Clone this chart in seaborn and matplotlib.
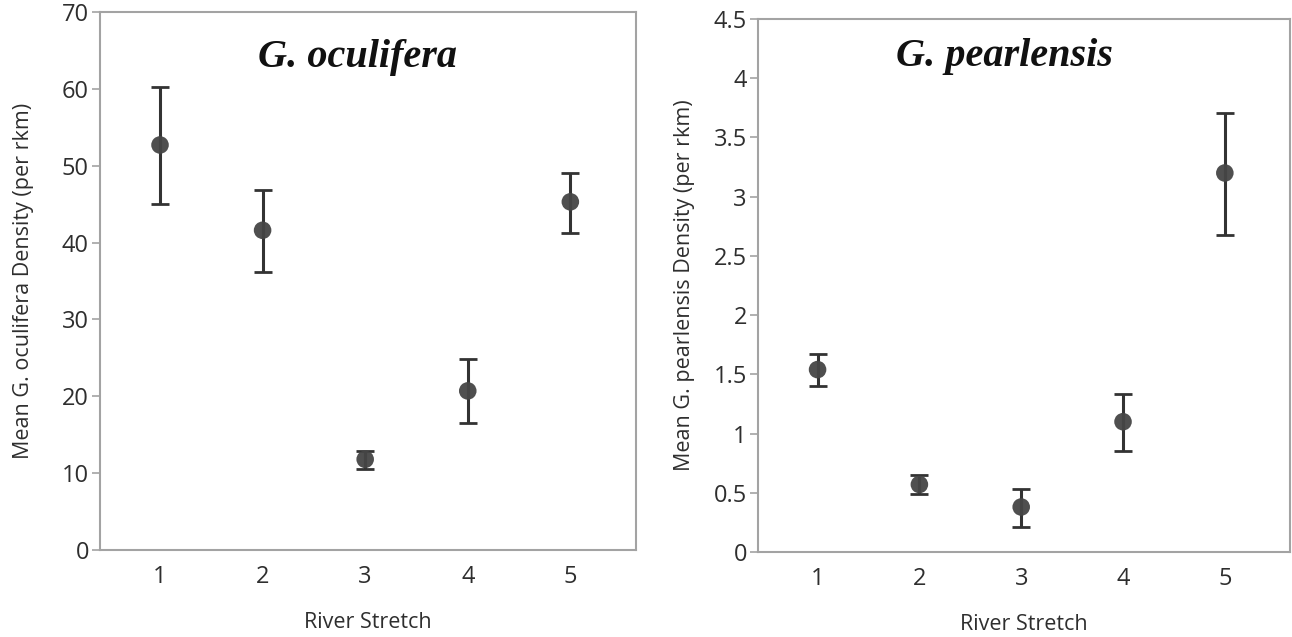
import matplotlib
matplotlib.use("Agg")
import matplotlib.pyplot as plt
import seaborn as sns
import pandas as pd

stretch = [1, 2, 3, 4, 5]

ocul_mean = [52.7, 41.6, 11.8, 20.7, 45.3]
ocul_lo = [45.0, 36.2, 10.6, 16.5, 41.2]
ocul_hi = [60.2, 46.8, 12.9, 24.8, 49.0]

pearl_mean = [1.54, 0.57, 0.38, 1.10, 3.20]
pearl_lo = [1.40, 0.49, 0.21, 0.85, 2.68]
pearl_hi = [1.67, 0.65, 0.53, 1.33, 3.71]

ocul_ticks = [0, 10, 20, 30, 40, 50, 60, 70]
ocul_ticklabels = ["0", "10", "20", "30", "40", "50", "60", "70"]
pearl_ticks = [0, 0.5, 1, 1.5, 2, 2.5, 3, 3.5, 4, 4.5]
pearl_ticklabels = ["0", "0.5", "1", "1.5", "2", "2.5", "3", "3.5", "4", "4.5"]

sns.set_theme(style="white")
plt.rcParams["font.family"] = ["Open Sans", "DejaVu Sans"]

fig = plt.figure(figsize=(12.92, 6.37), dpi=100)
ax1 = fig.add_axes([100/1292, 1-550/637, 536/1292, 538/637])
ax2 = fig.add_axes([758/1292, 1-552/637, 532/1292, 533/637])

spine_col = "#a3a3a3"
mark_col = "#454545"
text_col = "#2e2e2e"

panels = [
    (ax1, ocul_mean, ocul_lo, ocul_hi, (0, 70), ocul_ticks, ocul_ticklabels,
     "G. oculifera", "Mean G. oculifera Density (per rkm)", 0.481, 0.916, 20),
    (ax2, pearl_mean, pearl_lo, pearl_hi, (0, 4.5), pearl_ticks, pearl_ticklabels,
     "G. pearlensis", "Mean G. pearlensis Density (per rkm)", 0.464, 0.929, 13),
]

for ax, mean, lo, hi, ylim, ticks, tlabels, title, ylabel, tx, ty, ypad in panels:
    df = pd.DataFrame({"stretch": stretch, "mean": mean, "lo": lo, "hi": hi})
    ax.errorbar(df["stretch"], df["mean"],
                yerr=[df["mean"] - df["lo"], df["hi"] - df["mean"]],
                fmt="none", ecolor="#333333", elinewidth=2.2, capsize=6.5,
                capthick=2.0, zorder=2)
    sns.scatterplot(data=df, x="stretch", y="mean", ax=ax, s=160,
                    color=mark_col, edgecolor="none", alpha=0.95, zorder=3)
    ax.set_xlim(0.415, 5.64)
    ax.set_ylim(*ylim)
    ax.set_xticks(stretch)
    ax.set_xticklabels([str(s) for s in stretch])
    ax.set_yticks(ticks)
    ax.set_yticklabels(tlabels)
    ax.tick_params(axis="y", which="both", left=True, length=6, width=1.2,
                   color=spine_col, labelsize=17, labelcolor=text_col, pad=2)
    ax.tick_params(axis="x", bottom=False, labelsize=17, labelcolor=text_col, pad=5)
    for sp in ax.spines.values():
        sp.set_color(spine_col)
        sp.set_linewidth(1.5)
    ax.set_xlabel("River Stretch", fontsize=15.5, color=text_col, labelpad=16)
    ax.set_ylabel(ylabel, fontsize=15.5, color=text_col, labelpad=ypad)
    ax.text(tx, ty, title, transform=ax.transAxes, ha="center", va="center",
            fontsize=29, fontweight="bold", fontstyle="italic",
            family=["Liberation Serif", "DejaVu Serif"], color="#111111")

fig.savefig("out.png", dpi=100)
